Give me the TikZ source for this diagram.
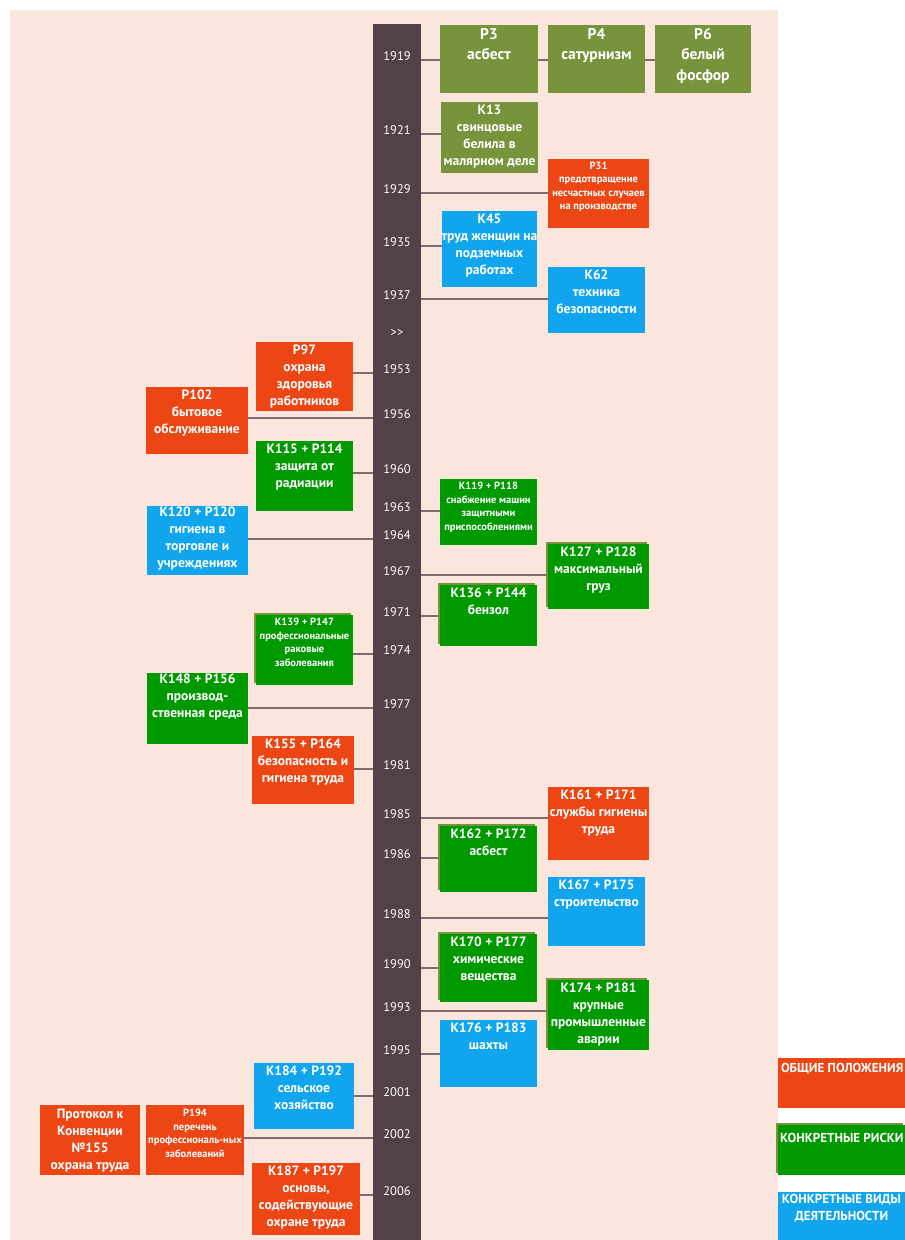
\documentclass[tikz,border=0pt]{standalone}
\usepackage{fontspec}
\setmainfont{PT Sans}
\usepackage{tikz}
\usetikzlibrary{backgrounds,shadows}
\definecolor{peach}{HTML}{FBE6DD}
\definecolor{barc}{HTML}{53414A}
\definecolor{olivec}{HTML}{77933C}
\definecolor{redc}{HTML}{EC4615}
\definecolor{greenc}{HTML}{009900}
\definecolor{bluec}{HTML}{10A5EC}
\definecolor{linec}{HTML}{7E6A70}
\tikzset{
  evbox/.style={rectangle, inner sep=0pt, draw=none},
  olshadow/.style={copy shadow={shadow xshift=-2pt, shadow yshift=2pt, fill=olivec, draw=none}},
  evtext/.style={text=white, font=\bfseries\fontsize{13.5}{17}\selectfont, align=center, inner sep=0pt, anchor=north},
  smalltext/.style={evtext, font=\bfseries\fontsize{10.5}{13.5}\selectfont},
  bigtext/.style={evtext, font=\bfseries\fontsize{15.5}{20.5}\selectfont},
  yeartext/.style={text=white, font=\fontsize{12.5}{13}\selectfont, anchor=base, inner sep=0pt},
  legtext/.style={text=white, font=\bfseries\fontsize{13}{17}\selectfont, inner sep=0pt},
  conn/.style={draw=linec, line width=1.3pt}
}

\begin{document}
\begin{tikzpicture}[x=1pt,y=-1pt]
  \useasboundingbox (0,0) rectangle (905,1240);
  % timeline bar
  \node[evbox, fill=barc, minimum width=48, minimum height=1216] (bar) at (397,632) {};
  \node[yeartext] (y1919) at (397,60) {1919};
  \node[yeartext] (y1921) at (397,134) {1921};
  \node[yeartext] (y1929) at (397,193) {1929};
  \node[yeartext] (y1935) at (397,246) {1935};
  \node[yeartext] (y1937) at (397,299) {1937};
  \node[yeartext] (skip) at (397,336) {{>}{>}};
  \node[yeartext] (y1953) at (397,373) {1953};
  \node[yeartext] (y1956) at (397,418) {1956};
  \node[yeartext] (y1960) at (397,473) {1960};
  \node[yeartext] (y1963) at (397,511) {1963};
  \node[yeartext] (y1964) at (397,539) {1964};
  \node[yeartext] (y1967) at (397,575) {1967};
  \node[yeartext] (y1971) at (397,616) {1971};
  \node[yeartext] (y1974) at (397,654) {1974};
  \node[yeartext] (y1977) at (397,708) {1977};
  \node[yeartext] (y1981) at (397,769) {1981};
  \node[yeartext] (y1985) at (397,818) {1985};
  \node[yeartext] (y1986) at (397,858) {1986};
  \node[yeartext] (y1988) at (397,918) {1988};
  \node[yeartext] (y1990) at (397,968) {1990};
  \node[yeartext] (y1993) at (397,1011) {1993};
  \node[yeartext] (y1995) at (397,1054) {1995};
  \node[yeartext] (y2001) at (397,1096) {2001};
  \node[yeartext] (y2002) at (397,1138) {2002};
  \node[yeartext] (y2006) at (397,1195) {2006};

  % right side
  \node[evbox, fill=olivec, minimum width=98, minimum height=68] (p3) at (489,59) {};
  \node[bigtext] (p3t) at ([yshift=-3pt]p3.north) {Р3\\асбест};
  \node[evbox, fill=olivec, minimum width=97, minimum height=68] (p4) at (596.5,59) {};
  \node[bigtext] (p4t) at ([yshift=-3pt]p4.north) {Р4\\сатурнизм};
  \node[evbox, fill=olivec, minimum width=96, minimum height=68] (p6) at (703,59) {};
  \node[bigtext] (p6t) at ([yshift=-3pt]p6.north) {Р6\\белый\\фосфор};
  \node[evbox, fill=olivec, minimum width=97, minimum height=71] (k13) at (489.5,137.5) {};
  \node[evtext] (k13t) at ([yshift=-3pt]k13.north) {К13\\свинцовые\\белила в\\малярном деле};
  \node[evbox, fill=redc, minimum width=101, minimum height=69] (p31) at (598.5,193.5) {};
  \node[smalltext] (p31t) at ([yshift=-3pt]p31.north) {Р31\\предотвращение\\несчастных случаев\\на производстве};
  \node[evbox, fill=bluec, minimum width=95, minimum height=76] (k45) at (489.5,249) {};
  \node[evtext] (k45t) at ([yshift=-3pt]k45.north) {К45\\труд женщин на\\подземных\\работах};
  \node[evbox, fill=bluec, minimum width=97, minimum height=66] (k62) at (596.5,300) {};
  \node[evtext] (k62t) at ([yshift=-3pt]k62.north) {К62\\техника\\безопасности};
  \node[evbox, fill=greenc, minimum width=97, minimum height=66] (k119) at (488.5,512) {};
  \node[smalltext] (k119t) at ([yshift=-3pt]k119.north) {К119 + Р118\\снабжение машин\\защитными\\приспособлениями};
  \node[evbox, olshadow, fill=greenc, minimum width=101, minimum height=65] (k127) at (598.5,576.5) {};
  \node[evtext] (k127t) at ([yshift=-3pt]k127.north) {К127 + Р128\\максимальный\\груз};
  \node[evbox, olshadow, fill=greenc, minimum width=97, minimum height=61] (k136) at (488.5,615.5) {};
  \node[evtext] (k136t) at ([yshift=-3pt]k136.north) {К136 + Р144\\бензол};
  \node[evbox, fill=redc, minimum width=101, minimum height=73] (k161) at (598.5,823.5) {};
  \node[evtext] (k161t) at ([yshift=-3pt]k161.north) {К161 + Р171\\службы гигиены\\труда};
  \node[evbox, olshadow, fill=greenc, minimum width=97, minimum height=66] (k162) at (488.5,859) {};
  \node[evtext] (k162t) at ([yshift=-3pt]k162.north) {К162 + Р172\\асбест};
  \node[evbox, fill=bluec, minimum width=97, minimum height=69] (k167) at (596.5,911.5) {};
  \node[evtext] (k167t) at ([yshift=-3pt]k167.north) {К167 + Р175\\строительство};
  \node[evbox, olshadow, fill=greenc, minimum width=97, minimum height=68] (k170) at (488.5,968) {};
  \node[evtext] (k170t) at ([yshift=-3pt]k170.north) {К170 + Р177\\химические\\вещества};
  \node[evbox, olshadow, fill=greenc, minimum width=101, minimum height=70] (k174) at (598.5,1015) {};
  \node[evtext] (k174t) at ([yshift=-3pt]k174.north) {К174 + Р181\\крупные\\промышленные\\аварии};
  \node[evbox, fill=bluec, minimum width=97, minimum height=67] (k176) at (488.5,1053.5) {};
  \node[evtext] (k176t) at ([yshift=-3pt]k176.north) {К176 + Р183\\шахты};

  % left side
  \node[evbox, fill=redc, minimum width=97, minimum height=69] (p97) at (304.5,376.5) {};
  \node[evtext] (p97t) at ([yshift=-3pt]p97.north) {Р97\\охрана\\здоровья\\работников};
  \node[evbox, fill=redc, minimum width=102, minimum height=67] (p102) at (197,420.5) {};
  \node[evtext] (p102t) at ([yshift=-3pt]p102.north) {Р102\\бытовое\\обслуживание};
  \node[evbox, fill=greenc, minimum width=97, minimum height=70] (k115) at (304.5,476) {};
  \node[evtext] (k115t) at ([yshift=-3pt]k115.north) {К115 + Р114\\защита от\\радиации};
  \node[evbox, fill=bluec, minimum width=101, minimum height=69] (k120) at (197.5,540.5) {};
  \node[evtext] (k120t) at ([yshift=-1pt]k120.north) {К120 + Р120\\гигиена в\\торговле и\\учреждениях};
  \node[evbox, olshadow, fill=greenc, minimum width=97, minimum height=70] (k139) at (304.5,650) {};
  \node[smalltext] (k139t) at ([yshift=-3pt]k139.north) {К139 + Р147\\профессиональные\\раковые\\заболевания};
  \node[evbox, fill=greenc, minimum width=101, minimum height=71] (k148) at (197.5,708.5) {};
  \node[evtext] (k148t) at ([yshift=-1pt]k148.north) {К148 + Р156\\производ-\\ственная среда};
  \node[evbox, fill=redc, minimum width=102, minimum height=68] (k155) at (303,770) {};
  \node[evtext] (k155t) at ([yshift=-3pt]k155.north) {К155 + Р164\\безопасность и\\гигиена труда};
  \node[evbox, fill=bluec, minimum width=100, minimum height=66] (k184) at (304,1096) {};
  \node[evtext] (k184t) at ([yshift=-3pt]k184.north) {К184 + Р192\\сельское\\хозяйство};
  \node[evbox, fill=redc, minimum width=98, minimum height=70] (p194) at (195,1140) {};
  \node[smalltext] (p194t) at ([yshift=-4pt]p194.north) {Р194\\перечень\\профессиональ-ных\\заболеваний};
  \node[evbox, fill=redc, minimum width=100, minimum height=70] (prot) at (90,1140) {};
  \node[evtext] (prott) at ([yshift=-4pt]prot.north) {Протокол к\\Конвенции\\№155\\охрана труда};
  \node[evbox, fill=redc, minimum width=108, minimum height=72] (k187) at (306,1199) {};
  \node[evtext] (k187t) at ([yshift=-3pt]k187.north) {К187 + Р197\\основы,\\содействующие\\охране труда};

  % legend
  \node[evbox, fill=redc, minimum width=127, minimum height=50] (lg1) at (841.5,1083) {};
  \node[legtext, anchor=west] (lg1t) at ([xshift=3pt,yshift=-11pt]lg1.north west) {ОБЩИЕ ПОЛОЖЕНИЯ};
  \node[evbox, olshadow, fill=greenc, minimum width=127, minimum height=50] (lg2) at (841.5,1150) {};
  \node[legtext, anchor=west] (lg2t) at ([xshift=2pt,yshift=-13pt]lg2.north west) {КОНКРЕТНЫЕ РИСКИ};
  \node[evbox, fill=bluec, minimum width=127, minimum height=48] (lg3) at (841.5,1216) {};
  \node[legtext, anchor=north, align=center] (lg3t) at ([yshift=-2pt]lg3.north) {КОНКРЕТНЫЕ ВИДЫ\\ДЕЯТЕЛЬНОСТИ};

  \begin{scope}[on background layer]
    \fill[white] (0,0) rectangle (905,1240);
    \fill[peach] (10,10) rectangle (778,1240);
    % connectors to the right
    \draw[conn] (y1919.base -| bar.east) -- (p6.west |- y1919.base);
    \draw[conn] (y1921.base -| bar.east) -- (k13.west |- y1921.base);
    \draw[conn] (y1929.base -| bar.east) -- (p31.west |- y1929.base);
    \draw[conn] (y1935.base -| bar.east) -- (k45.west |- y1935.base);
    \draw[conn] (y1937.base -| bar.east) -- (k62.west |- y1937.base);
    \draw[conn] (y1963.base -| bar.east) -- (k119.west |- y1963.base);
    \draw[conn] (y1967.base -| bar.east) -- (k127.west |- y1967.base);
    \draw[conn] (y1971.base -| bar.east) -- (k136.west |- y1971.base);
    \draw[conn] (y1985.base -| bar.east) -- (k161.west |- y1985.base);
    \draw[conn] (y1986.base -| bar.east) -- (k162.west |- y1986.base);
    \draw[conn] (y1988.base -| bar.east) -- (k167.west |- y1988.base);
    \draw[conn] (y1990.base -| bar.east) -- (k170.west |- y1990.base);
    \draw[conn] (y1993.base -| bar.east) -- (k174.west |- y1993.base);
    \draw[conn] (y1995.base -| bar.east) -- (k176.west |- y1995.base);
    % connectors to the left
    \draw[conn] (p97.east |- y1953.base) -- (y1953.base -| bar.west);
    \draw[conn] (p102.east |- y1956.base) -- (y1956.base -| bar.west);
    \draw[conn] (k115.east |- y1960.base) -- (y1960.base -| bar.west);
    \draw[conn] (k120.east |- y1964.base) -- (y1964.base -| bar.west);
    \draw[conn] (k139.east |- y1974.base) -- (y1974.base -| bar.west);
    \draw[conn] (k148.east |- y1977.base) -- (y1977.base -| bar.west);
    \draw[conn] (k155.east |- y1981.base) -- (y1981.base -| bar.west);
    \draw[conn] (k184.east |- y2001.base) -- (y2001.base -| bar.west);
    \draw[conn] (p194.east |- y2002.base) -- (y2002.base -| bar.west);
    \draw[conn] (k187.east |- y2006.base) -- (y2006.base -| bar.west);
  \end{scope}
\end{tikzpicture}
\end{document}
